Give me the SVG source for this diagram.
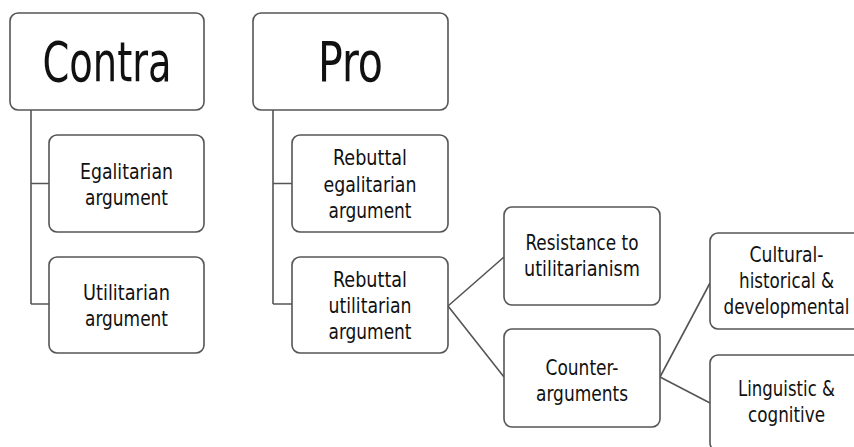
<svg xmlns="http://www.w3.org/2000/svg" width="854" height="447" viewBox="0 0 854 447">
<style>
.box{fill:#fff;stroke:#555;stroke-width:1.6}
.ln{fill:none;stroke:#555;stroke-width:1.6}
text{font-family:"DejaVu Sans","Liberation Sans",sans-serif;font-stretch:condensed;fill:#111;text-anchor:middle}
.big{font-size:55px}
.sm{font-size:21px}
</style>
<rect width="854" height="447" fill="#fff"/>
<g id="connectors">
<path class="ln" d="M31,110 V304 M31,183.5 H49 M31,304 H49"/>
<path class="ln" d="M273,110 V304 M273,183.5 H292 M273,304 H292"/>
<path class="ln" d="M448,306 L504,257 M448,306 L504,377"/>
<path class="ln" d="M660,377 L710,283 M660,377 L710,403"/>
</g>
<g id="contra"><rect class="box" x="10" y="13" width="194" height="97" rx="8"/><text class="big" x="107" y="81" textLength="129" lengthAdjust="spacingAndGlyphs">Contra</text></g>
<g id="pro"><rect class="box" x="253" y="13" width="195" height="97" rx="8"/><text class="big" x="350.5" y="81" textLength="65" lengthAdjust="spacingAndGlyphs">Pro</text></g>
<g id="egalitarian"><rect class="box" x="49" y="135" width="155" height="97" rx="8"/><text class="sm" x="126.5" y="179" textLength="93" lengthAdjust="spacingAndGlyphs">Egalitarian</text><text class="sm" x="126.5" y="205" textLength="83" lengthAdjust="spacingAndGlyphs">argument</text></g>
<g id="utilitarian"><rect class="box" x="49" y="257" width="155" height="96" rx="8"/><text class="sm" x="126.5" y="300" textLength="87" lengthAdjust="spacingAndGlyphs">Utilitarian</text><text class="sm" x="126.5" y="326" textLength="83" lengthAdjust="spacingAndGlyphs">argument</text></g>
<g id="rebuttal-egalitarian"><rect class="box" x="292" y="135" width="156" height="97" rx="8"/><text class="sm" x="370" y="165" textLength="74" lengthAdjust="spacingAndGlyphs">Rebuttal</text><text class="sm" x="370" y="192" textLength="93" lengthAdjust="spacingAndGlyphs">egalitarian</text><text class="sm" x="370" y="218" textLength="83" lengthAdjust="spacingAndGlyphs">argument</text></g>
<g id="rebuttal-utilitarian"><rect class="box" x="292" y="257" width="156" height="96" rx="8"/><text class="sm" x="370" y="287" textLength="74" lengthAdjust="spacingAndGlyphs">Rebuttal</text><text class="sm" x="370" y="313" textLength="83" lengthAdjust="spacingAndGlyphs">utilitarian</text><text class="sm" x="370" y="339" textLength="83" lengthAdjust="spacingAndGlyphs">argument</text></g>
<g id="resistance"><rect class="box" x="504" y="207" width="156" height="98" rx="8"/><text class="sm" x="582" y="250" textLength="113" lengthAdjust="spacingAndGlyphs">Resistance to</text><text class="sm" x="582" y="276" textLength="116" lengthAdjust="spacingAndGlyphs">utilitarianism</text></g>
<g id="counter"><rect class="box" x="504" y="329" width="156" height="98" rx="8"/><text class="sm" x="582" y="375" textLength="73" lengthAdjust="spacingAndGlyphs">Counter-</text><text class="sm" x="582" y="401" textLength="92" lengthAdjust="spacingAndGlyphs">arguments</text></g>
<g id="cultural"><rect class="box" x="710" y="233" width="154" height="96" rx="8"/><text class="sm" x="786.5" y="262" textLength="74" lengthAdjust="spacingAndGlyphs">Cultural-</text><text class="sm" x="786.5" y="288" textLength="95" lengthAdjust="spacingAndGlyphs">historical &amp;</text><text class="sm" x="786.5" y="314" textLength="126" lengthAdjust="spacingAndGlyphs">developmental</text></g>
<g id="linguistic"><rect class="box" x="710" y="355" width="154" height="96" rx="8"/><text class="sm" x="786.5" y="396" textLength="97" lengthAdjust="spacingAndGlyphs">Linguistic &amp;</text><text class="sm" x="786.5" y="422" textLength="77" lengthAdjust="spacingAndGlyphs">cognitive</text></g>
</svg>
